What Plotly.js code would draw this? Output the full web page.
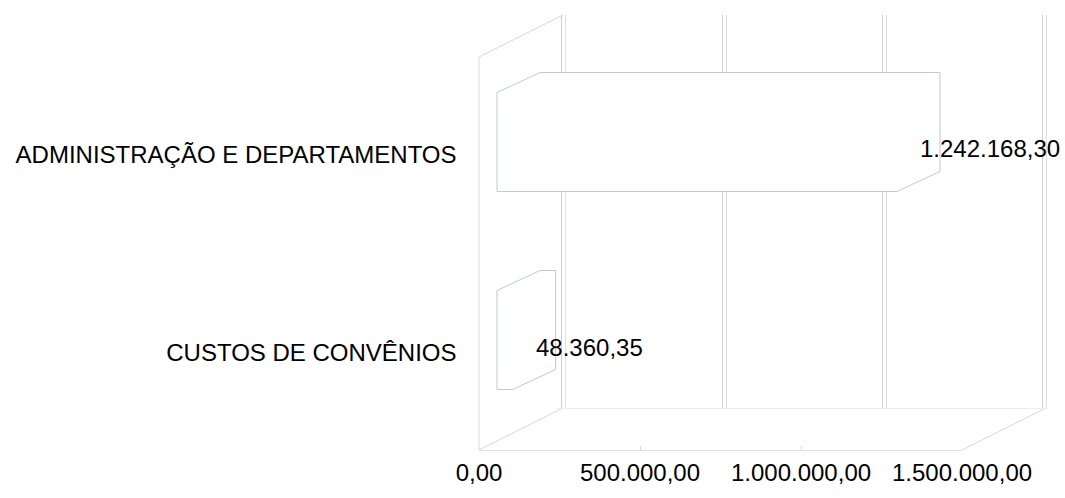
<!DOCTYPE html>
<html>
<head>
<meta charset="utf-8">
<script src="https://cdn.plot.ly/plotly-3.0.1.min.js"></script>
<style>html,body{margin:0;padding:0;background:#fff;}#chart{width:1065px;height:498px;}</style>
</head>
<body>
<div id="chart"></div>
<script>
// ---- data ----
const categories = ['CUSTOS DE CONVÊNIOS', 'ADMINISTRAÇÃO E DEPARTAMENTOS'];
const values = [48360.35, 1242168.30];
const tickValues = [0, 500000, 1000000, 1500000];
const tickLabels = ['0,00', '500.000,00', '1.000.000,00', '1.500.000,00'];

// ---- helpers ----
const W = 1065, H = 498;
const fx = p => p / W;
const fy = p => 1 - p / H;
function fmtBR(v) {
  const parts = v.toFixed(2).split('.');
  const int = parts[0].replace(/\B(?=(\d{3})+(?!\d))/g, '.');
  return int + ',' + parts[1];
}
const XMAX = 1500000;
function xDomain(p0, p1, r0, r1) {
  const s = (p1 - p0) / XMAX;
  return [fx(p0 + r0 * s), fx(p0 + r1 * s)];
}

const FONT = {family: 'Liberation Sans, Arial, sans-serif', size: 24, color: '#000'};
const idx = categories.map((c, i) => i);

// depth of the 3D effect (in data units)
const pxPerUnitX = (980 - 497) / XMAX;
const pxPerCat = 198;
const depthX = 43 / pxPerUnitX;
const depthY = 20 / pxPerCat;
const half = 0.25;

const traces = [];
traces.push({x: [0, XMAX], y: [0, 1], xaxis: 'x', yaxis: 'y', mode: 'markers',
  marker: {opacity: 0}, hoverinfo: 'skip', showlegend: false});
traces.push({x: [0, XMAX], y: [0, 1], xaxis: 'x2', yaxis: 'y2', mode: 'markers',
  marker: {opacity: 0}, hoverinfo: 'skip', showlegend: false});
traces.push({type: 'bar', orientation: 'h', x: values, y: idx, width: 2 * half,
  xaxis: 'x3', yaxis: 'y3', marker: {color: '#ffffff', line: {width: 0}},
  hoverinfo: 'skip', showlegend: false});
values.forEach((v, i) => {
  const lo = i - half, hi = i + half;
  traces.push({
    x: [0, 0, depthX, v + depthX, v + depthX, v, 0],
    y: [lo, hi, hi + depthY, hi + depthY, lo + depthY, lo, lo],
    xaxis: 'x3', yaxis: 'y3', mode: 'lines', fill: 'toself', fillcolor: '#ffffff',
    line: {color: '#bccbd4', width: 1}, hoverinfo: 'skip', showlegend: false
  });
});
traces.push({x: [0, XMAX], y: [0, 1], xaxis: 'x4', yaxis: 'y4', mode: 'markers',
  marker: {opacity: 0}, hoverinfo: 'skip', showlegend: false});

const R0 = -20000, R1 = 1520000;
const wallY = [fy(408), fy(15)];
const yr3 = [-0.6, 1.6];
const y3dom = [fy(340 - yr3[0] * pxPerCat), fy(340 - yr3[1] * pxPerCat)];

const layout = {
  width: W, height: H,
  margin: {l: 0, r: 0, t: 0, b: 0},
  paper_bgcolor: '#ffffff', plot_bgcolor: 'rgba(0,0,0,0)',
  font: FONT,
  showlegend: false,
  separators: ',.',
  xaxis: {domain: xDomain(562, 1043, R0, R1), range: [R0, R1], anchor: 'y',
    tickvals: tickValues, showgrid: true, gridcolor: '#cfcfcf', gridwidth: 1,
    zeroline: false, showticklabels: false, ticks: '', showline: true, linecolor: '#ededed', fixedrange: true},
  yaxis: {domain: wallY, range: [0, 1], anchor: 'x', visible: false, fixedrange: true},
  xaxis2: {domain: xDomain(566, 1047, R0, R1), range: [R0, R1], anchor: 'y2',
    tickvals: tickValues, showgrid: true, gridcolor: '#e0e0e0', gridwidth: 1,
    zeroline: false, showticklabels: false, ticks: '', showline: false, fixedrange: true},
  yaxis2: {domain: wallY, range: [0, 1], anchor: 'x2', visible: false, fixedrange: true},
  xaxis3: {domain: xDomain(497, 980, R0, R1), range: [R0, R1], anchor: 'y3',
    visible: false, fixedrange: true},
  yaxis3: {domain: y3dom, range: yr3, anchor: 'x3',
    tickvals: idx.map(i => i - 0.063), ticktext: categories,
    showgrid: false, zeroline: false, showline: false, ticks: '',
    ticklabelstandoff: 33, tickfont: FONT, fixedrange: true},
  xaxis4: {domain: xDomain(479, 962, 0, XMAX), range: [0, XMAX], anchor: 'y4',
    tickvals: tickValues, ticktext: tickLabels, showgrid: false, zeroline: false,
    showline: true, linecolor: '#e2e2e2', ticks: 'inside', ticklen: 4, tickcolor: '#d8d8d8',
    ticklabelstandoff: 1, tickfont: FONT, fixedrange: true},
  yaxis4: {domain: [fy(450), fy(440)], range: [0, 1], anchor: 'x4', visible: false, fixedrange: true},
  shapes: [
    {type: 'line', xref: 'paper', yref: 'paper', x0: fx(479), y0: fy(57), x1: fx(479), y1: fy(450),
      line: {color: '#dcdcdc', width: 1}, layer: 'below'},
    {type: 'line', xref: 'paper', yref: 'paper', x0: fx(479), y0: fy(57), x1: fx(563), y1: fy(15),
      line: {color: '#d6d6d6', width: 1}, layer: 'below'},
    {type: 'line', xref: 'paper', yref: 'paper', x0: fx(479), y0: fy(450), x1: fx(563), y1: fy(408),
      line: {color: '#d6d6d6', width: 1}, layer: 'below'},
    {type: 'line', xref: 'paper', yref: 'paper', x0: fx(962), y0: fy(450), x1: fx(1046), y1: fy(408),
      line: {color: '#d6d6d6', width: 1}, layer: 'below'}
  ],
  annotations: values.map((v, i) => ({
    x: v, y: i, xref: 'x3', yref: 'y3', text: fmtBR(v), showarrow: false,
    xanchor: 'left', yanchor: 'middle', xshift: 21, yshift: -7, font: FONT
  }))
};

Plotly.newPlot('chart', traces, layout, {displayModeBar: false, staticPlot: true});
</script>
</body>
</html>
